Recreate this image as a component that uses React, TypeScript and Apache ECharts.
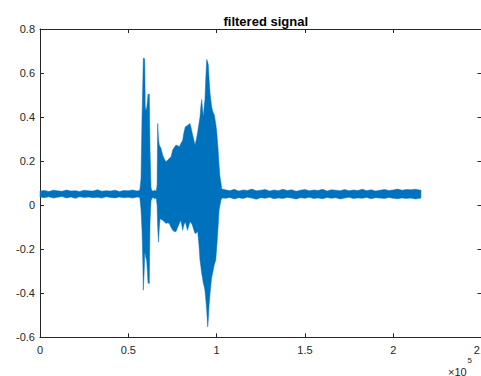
import React, { useEffect, useRef } from "react";
import * as echarts from "echarts";

// Envelope of the filtered signal (sample index, upper and lower extent)
const sampleX = [
  0, 2500, 5000, 7500, 10000, 12500, 15000, 17500, 20000, 22500, 25000, 27500,
  30000, 32500, 35000, 37500, 40000, 42500, 45000, 47500, 50000, 52500, 55000, 56500,
  57200, 57760, 58200, 58500, 59000, 59300, 59600, 60000, 60400, 60800, 61200, 61600,
  61900, 62300, 62860, 63400, 64200, 65000, 65800, 66300,
  66650, 67100, 67560, 68000, 68500, 69500, 70400, 71350, 72300, 73200, 74200, 75150,
  76000, 77000, 78000, 78900, 79800, 80800, 81500, 82300, 83500, 84900, 85600, 86250,
  87000, 87800, 88600, 89300, 90000, 90600, 91100, 91570, 92000, 92500, 93000, 93400,
  93900, 94400, 94970, 95300, 95700, 96300, 96840, 97200, 97700, 98100, 98700, 99500,
  100000, 100600, 101000, 101400, 101900, 102500, 102900, 103500,
  105000, 107500, 110000, 112500, 115000, 117500, 120000, 122500, 125000, 127500,
  130000, 132500, 135000, 137500, 140000, 142500, 145000, 147500, 150000, 152500,
  155000, 157500, 160000, 162500, 165000, 167500, 170000, 172500, 175000, 177500,
  180000, 182500, 185000, 187500, 190000, 192500, 195000, 197500, 200000, 202500,
  205000, 207500, 210000, 212500, 215000, 215700,
];

const upperEnv = [
  0.064, 0.067, 0.062, 0.068, 0.065, 0.063, 0.069, 0.064, 0.066, 0.062, 0.068, 0.065,
  0.064, 0.07, 0.063, 0.066, 0.064, 0.068, 0.062, 0.067, 0.065, 0.069, 0.064, 0.068,
  0.12, 0.4, 0.55, 0.667, 0.667, 0.66, 0.447, 0.43, 0.44, 0.47, 0.505, 0.5,
  0.505, 0.25, 0.08, 0.066, 0.064, 0.068, 0.063, 0.09,
  0.371, 0.3, 0.273, 0.265, 0.258, 0.227, 0.21, 0.197, 0.205, 0.212, 0.22, 0.25,
  0.262, 0.273, 0.27, 0.265, 0.28, 0.295, 0.33, 0.356, 0.362, 0.371, 0.35, 0.326,
  0.3, 0.273, 0.3, 0.333, 0.37, 0.4, 0.45, 0.48, 0.44, 0.4, 0.45, 0.48,
  0.58, 0.662, 0.65, 0.636, 0.58, 0.508, 0.47, 0.447, 0.43, 0.42, 0.41, 0.37,
  0.34, 0.28, 0.235, 0.18, 0.13, 0.1, 0.075, 0.072,
  0.07, 0.066, 0.072, 0.064, 0.069, 0.067, 0.073, 0.065, 0.068, 0.071,
  0.064, 0.069, 0.066, 0.072, 0.067, 0.07, 0.063, 0.068, 0.071, 0.065,
  0.069, 0.067, 0.072, 0.064, 0.07, 0.068, 0.066, 0.071, 0.065, 0.069,
  0.067, 0.072, 0.066, 0.07, 0.064, 0.068, 0.071, 0.067, 0.069, 0.073,
  0.068, 0.071, 0.07, 0.072, 0.069, 0.068,
];

const lowerEnv = [
  0.037, 0.034, 0.038, 0.032, 0.036, 0.039, 0.033, 0.037, 0.031, 0.038, 0.035, 0.037,
  0.034, 0.036, 0.032, 0.038, 0.035, 0.033, 0.037, 0.034, 0.036, 0.032, 0.037, 0.035,
  -0.02, -0.114, -0.25, -0.386, -0.3, -0.22, -0.22, -0.24, -0.25, -0.3, -0.356, -0.35,
  -0.356, -0.08, 0.02, 0.031, 0.035, 0.029, 0.033, 0.0,
  -0.1, -0.167, -0.1, -0.06, -0.065, -0.068, -0.075, -0.083, -0.08, -0.083, -0.1, -0.114,
  -0.12, -0.12, -0.1, -0.083, -0.068, -0.114, -0.09, -0.075, -0.114, -0.076, -0.08, -0.09,
  -0.11, -0.129, -0.125, -0.12, -0.18, -0.25, -0.28, -0.31, -0.33, -0.356, -0.37, -0.386,
  -0.43, -0.477, -0.553, -0.52, -0.46, -0.4, -0.356, -0.33, -0.31, -0.295, -0.27, -0.25,
  -0.2, -0.129, -0.08, -0.023, 0.0, 0.023, 0.03, 0.033,
  0.031, 0.035, 0.028, 0.034, 0.03, 0.036, 0.032, 0.027, 0.034, 0.031,
  0.036, 0.029, 0.033, 0.03, 0.035, 0.032, 0.028, 0.034, 0.031, 0.036,
  0.03, 0.033, 0.029, 0.035, 0.031, 0.034, 0.028, 0.032, 0.036, 0.03,
  0.033, 0.031, 0.035, 0.029, 0.034, 0.032, 0.03, 0.035, 0.031, 0.029,
  0.033, 0.03, 0.032, 0.028, 0.031, 0.032,
];

const xMin = 0;
const xMax = 250000;
const xStep = 50000;
const yMin = -0.6;
const yMax = 0.8;
const yStep = 0.2;

const titleText = "filtered signal";
const AXIS_COLOR = "#262626";
const LINE_COLOR = "#0072BD";
const FONT = '"Liberation Sans", Arial, Helvetica, sans-serif';

export default function App() {
  const ref = useRef<HTMLDivElement>(null);

  useEffect(() => {
    document.body.style.margin = "0";
    if (!ref.current) return;
    const chart = echarts.init(ref.current, null, { renderer: "svg" });

    const axisCommon = {
      axisLine: { show: true, onZero: false, lineStyle: { color: AXIS_COLOR, width: 1 } },
      axisTick: { show: true, inside: true, length: 4, lineStyle: { color: AXIS_COLOR } },
      splitLine: { show: false },
    };

    chart.setOption({
      animation: false,
      backgroundColor: "#ffffff",
      title: {
        text: titleText,
        left: 260.75,
        top: 10,
        textAlign: "center",
        textStyle: { fontFamily: FONT, fontSize: 13, fontWeight: "bold", color: "#000" },
      },
      grid: {
        left: 40,
        top: 29,
        width: 441.5,
        height: 308.3,
        containLabel: false,
        outerBoundsMode: "none",
      },
      xAxis: [
        {
          type: "value",
          min: xMin,
          max: xMax,
          interval: xStep,
          position: "bottom",
          ...axisCommon,
          axisLabel: {
            show: true,
            margin: 7,
            color: AXIS_COLOR,
            fontFamily: FONT,
            fontSize: 11,
            hideOverlap: false,
            formatter: (v: number) => String(Number((v / 1e5).toFixed(1))),
          },
        },
        {
          type: "value",
          min: xMin,
          max: xMax,
          interval: xStep,
          position: "top",
          ...axisCommon,
          axisLabel: { show: false },
        },
      ],
      yAxis: [
        {
          type: "value",
          min: yMin,
          max: yMax,
          interval: yStep,
          position: "left",
          ...axisCommon,
          axisLabel: {
            show: true,
            margin: 5,
            color: AXIS_COLOR,
            fontFamily: FONT,
            fontSize: 11,
            formatter: (v: number) => String(Number(v.toFixed(1))),
          },
        },
        {
          type: "value",
          min: yMin,
          max: yMax,
          interval: yStep,
          position: "right",
          ...axisCommon,
          axisLabel: { show: false },
        },
      ],
      graphic: [
        {
          type: "text",
          x: 448,
          y: 366,
          style: {
            text: "×10",
            font: `11px ${FONT}`,
            fill: AXIS_COLOR,
            align: "left",
            verticalAlign: "top",
          },
        },
        {
          type: "text",
          x: 467.5,
          y: 356,
          style: {
            text: "5",
            font: `8px ${FONT}`,
            fill: AXIS_COLOR,
            align: "left",
            verticalAlign: "top",
          },
        },
      ],
      series: [
        {
          type: "custom",
          xAxisIndex: 0,
          yAxisIndex: 0,
          data: [[sampleX[0], upperEnv[0]]],
          encode: { x: 0, y: 1 },
          renderItem: (params: any, api: any) => {
            if (params.dataIndex !== 0) return null;
            const pts: number[][] = [];
            for (let i = 0; i < sampleX.length; i++) {
              pts.push(api.coord([sampleX[i], upperEnv[i]]));
            }
            for (let i = sampleX.length - 1; i >= 0; i--) {
              pts.push(api.coord([sampleX[i], lowerEnv[i]]));
            }
            return {
              type: "polygon",
              shape: { points: pts },
              style: { fill: LINE_COLOR, stroke: LINE_COLOR, lineWidth: 0.5 },
            };
          },
        },
      ],
    });

    return () => chart.dispose();
  }, []);

  return <div ref={ref} style={{ width: 481, height: 376 }} />;
}
